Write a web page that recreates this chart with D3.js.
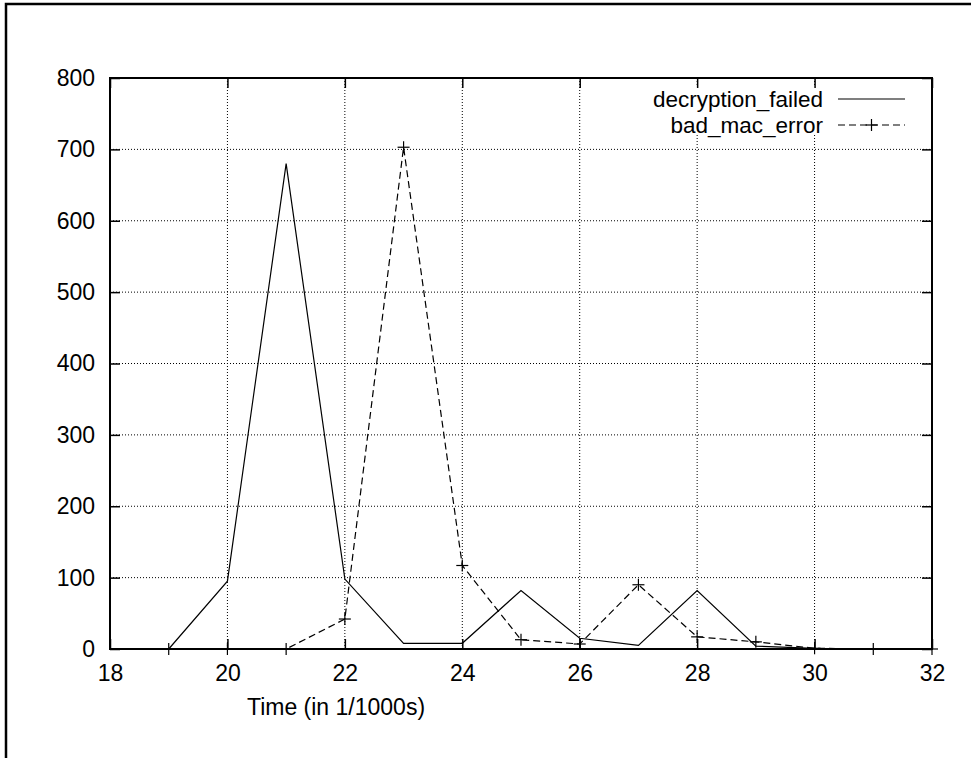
<!DOCTYPE html>
<html>
<head>
<meta charset="utf-8">
<script src="https://cdn.jsdelivr.net/npm/d3@7"></script>
<style>
  html, body { margin: 0; padding: 0; background: #fff; }
  svg { display: block; font-family: "Liberation Sans", Arial, Helvetica, sans-serif; }
</style>
</head>
<body>
<svg id="chart" width="971" height="758"></svg>
<script>
// ---- data ----
const decryptionX = [19, 20, 21, 22, 23, 24, 25, 26, 27, 28, 29, 30, 31, 32];
const decryptionY = [0, 95, 680, 98, 8, 8, 82, 15, 5, 82, 4, 1, 0, 0];
const badMacX = [19, 20, 21, 22, 23, 24, 25, 26, 27, 28, 29, 30, 31, 32];
const badMacY = [0, 0, 0, 42, 703, 117, 13, 7, 90, 17, 10, 1, 0, 0];
const seriesNames = ["decryption_failed", "bad_mac_error"];
const xTicks = [18, 20, 22, 24, 26, 28, 30, 32];
const yTicks = [0, 100, 200, 300, 400, 500, 600, 700, 800];
const xLabel = "Time (in 1/1000s)";

// ---- layout ----
const svg = d3.select("#chart");
const pLeft = 110, pRight = 932, pTop = 78, pBottom = 649;
const x = d3.scaleLinear().domain([18, 32]).range([pLeft, pRight]);
const y = d3.scaleLinear().domain([0, 800]).range([pBottom, pTop]);
const fontSize = 23;
const legendFontSize = 22.5;

// outer frame
svg.append("rect")
  .attr("x", 6).attr("y", 4).attr("width", 1100).attr("height", 900)
  .attr("fill", "none").attr("stroke", "#000").attr("stroke-width", 2.5);

// grid
const grid = svg.append("g").attr("stroke", "#000").attr("stroke-width", 1)
  .attr("stroke-dasharray", "1,2").attr("fill", "none");
xTicks.filter(t => t > 18 && t < 32).forEach(t => {
  grid.append("line").attr("x1", x(t)).attr("x2", x(t)).attr("y1", pTop).attr("y2", pBottom);
});
yTicks.filter(t => t > 0 && t < 800).forEach(t => {
  grid.append("line").attr("x1", pLeft).attr("x2", pRight).attr("y1", y(t)).attr("y2", y(t));
});

// legend background (clears grid under the key)
svg.append("rect").attr("x", 645).attr("y", 87).attr("width", 270).attr("height", 48).attr("fill", "#fff");

// axes
const axisStyle = g => {
  g.select(".domain").remove();
  g.selectAll(".tick line").attr("stroke", "#000").attr("stroke-width", 1.5);
  g.selectAll(".tick text").attr("fill", "#000").attr("font-size", fontSize)
    .attr("font-family", "Liberation Sans, Arial, Helvetica, sans-serif");
};
svg.append("g").attr("transform", `translate(0,${pBottom})`)
  .call(d3.axisBottom(x).tickValues(xTicks).tickFormat(d3.format("d")).tickSizeInner(-10).tickSizeOuter(0).tickPadding(16))
  .call(axisStyle);
svg.append("g").attr("transform", `translate(0,${pTop})`)
  .call(d3.axisTop(x).tickValues(xTicks).tickFormat("").tickSizeInner(-10).tickSizeOuter(0))
  .call(axisStyle);
svg.append("g").attr("transform", `translate(${pLeft},0)`)
  .call(d3.axisLeft(y).tickValues(yTicks).tickFormat(d3.format("d")).tickSizeInner(-10).tickSizeOuter(0).tickPadding(15))
  .call(axisStyle);
svg.append("g").attr("transform", `translate(${pRight},0)`)
  .call(d3.axisRight(y).tickValues(yTicks).tickFormat("").tickSizeInner(-10).tickSizeOuter(0))
  .call(axisStyle);

// plot border
svg.append("rect").attr("x", pLeft).attr("y", pTop).attr("width", pRight - pLeft).attr("height", pBottom - pTop)
  .attr("fill", "none").attr("stroke", "#000").attr("stroke-width", 2);

// x label
svg.append("text").attr("x", 336).attr("y", 715).attr("text-anchor", "middle")
  .attr("font-size", fontSize).attr("fill", "#000").text(xLabel);

// series
const line = d3.line().x(d => x(d[0])).y(d => y(d[1]));
const decData = decryptionX.map((v, i) => [v, decryptionY[i]]);
const badData = badMacX.map((v, i) => [v, badMacY[i]]);

svg.append("path").datum(decData).attr("d", line)
  .attr("fill", "none").attr("stroke", "#000").attr("stroke-width", 1.2);
svg.append("path").datum(badData).attr("d", line)
  .attr("fill", "none").attr("stroke", "#000").attr("stroke-width", 1.2).attr("stroke-dasharray", "7,4");

const plus = (g, cx, cy, s) => {
  g.append("line").attr("x1", cx - s).attr("x2", cx + s).attr("y1", cy).attr("y2", cy);
  g.append("line").attr("x1", cx).attr("x2", cx).attr("y1", cy - s).attr("y2", cy + s);
};
const marks = svg.append("g").attr("stroke", "#000").attr("stroke-width", 1.2);
badData.forEach(d => plus(marks, x(d[0]), y(d[1]), 6));

// legend
const legY = [99, 125];
seriesNames.forEach((name, i) => {
  svg.append("text").attr("x", 823).attr("y", legY[i]).attr("dy", "0.35em")
    .attr("text-anchor", "end").attr("font-size", legendFontSize).attr("fill", "#000").text(name);
});
svg.append("line").attr("x1", 838).attr("x2", 905).attr("y1", legY[0]).attr("y2", legY[0])
  .attr("stroke", "#000").attr("stroke-width", 1.2);
svg.append("line").attr("x1", 838).attr("x2", 905).attr("y1", legY[1]).attr("y2", legY[1])
  .attr("stroke", "#000").attr("stroke-width", 1.2).attr("stroke-dasharray", "7,4");
plus(svg.append("g").attr("stroke", "#000").attr("stroke-width", 1.2), 871.5, legY[1], 6);
</script>
</body>
</html>
